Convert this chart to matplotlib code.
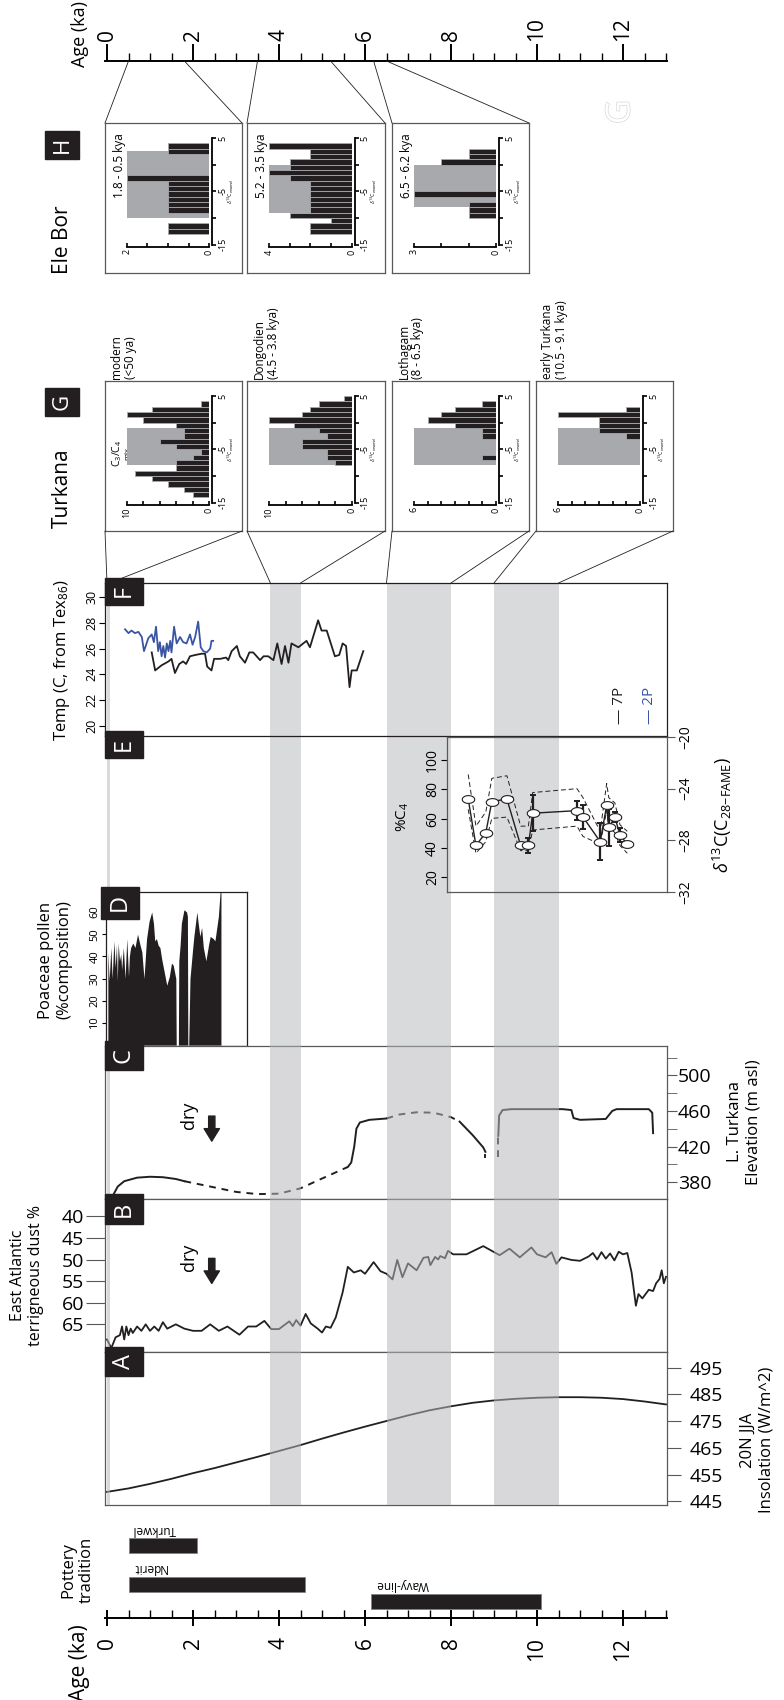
import numpy as np
import matplotlib.pyplot as plt
import matplotlib.patheffects as pe
from matplotlib.patches import Rectangle, ConnectionPatch

plt.rcParams['font.family'] = ['Open Sans', 'DejaVu Sans']
plt.rcParams['mathtext.fontset'] = 'custom'
plt.rcParams['mathtext.rm'] = 'Open Sans'
plt.rcParams['mathtext.it'] = 'Open Sans:italic'
plt.rcParams['axes.linewidth'] = 0.9

INK = '#231f20'
FRAME = '#58595b'
BAND = '#d9dadc'
MIX = '#a7a9ac'
BLUE = '#3b55a5'

# ---------------- data ----------------
bands = [(0.0, 0.06), (3.8, 4.5), (6.5, 8.0), (9.0, 10.5)]

# A: 20N JJA insolation
ins_age = [0, 0.5, 1, 1.5, 2, 2.5, 3, 3.5, 4, 4.5, 5, 5.5, 6, 6.5, 7, 7.5, 8, 8.5, 9, 9.5, 10, 10.5, 11, 11.5, 12, 12.5, 13]
ins_val = [448.5, 449.8, 451.5, 453.4, 455.5, 457.4, 459.5, 461.6, 463.8, 466, 468.4, 470.7, 472.9, 475, 477.1, 479, 480.5, 481.8,
           482.7, 483.3, 483.7, 483.9, 483.9, 483.7, 483.2, 482.3, 481.2]

# B: East Atlantic terrigenous dust %
dust_age = [0.0, 0.05, 0.1, 0.2, 0.3, 0.35, 0.4, 0.45, 0.5, 0.55, 0.6, 0.7, 0.8, 0.9, 1.0, 1.1, 1.2, 1.3, 1.4, 1.6, 1.8, 2.0,
            2.2, 2.4, 2.6, 2.8, 3.08, 3.28, 3.47, 3.66, 3.82, 4.0, 4.24, 4.32, 4.4, 4.5, 4.62, 4.74, 4.9, 5.0, 5.09, 5.2, 5.32,
            5.48, 5.6, 5.74, 5.9, 6.0, 6.2, 6.36, 6.5, 6.64, 6.75, 6.87, 7.0, 7.2, 7.36, 7.47, 7.52, 7.63, 7.7, 7.75, 7.86,
            7.93, 8.05, 8.36, 8.75, 9.13, 9.36, 9.6, 9.87, 10.0, 10.2, 10.34, 10.45, 10.57, 10.8, 11.0, 11.2, 11.3, 11.4,
            11.5, 11.6, 11.7, 11.8, 11.9, 12.0, 12.1, 12.2, 12.3, 12.36, 12.45, 12.6, 12.7, 12.77, 12.85, 12.9, 12.95, 13.0]
dust_val = [68.5, 69.5, 70.5, 68, 67.5, 65.5, 68.5, 65.5, 67.5, 66, 67, 65.5, 66.5, 65, 66.5, 65.5, 66.5, 64.5, 66, 65, 66, 66.5,
            66.5, 65, 66.5, 65.5, 67.4, 65.5, 65.5, 64.2, 66.1, 66.1, 64.3, 65.4, 64, 65.3, 62.6, 64.8, 66, 66.9, 65.5, 65.8, 63.4,
            57.6, 51.7, 53, 52.5, 53.3, 50.6, 52.7, 53.3, 54.6, 50.1, 54.1, 50.9, 52.5, 49.6, 49.4, 51.3, 49.4, 50, 49.2, 49.7,
            48, 48.8, 48.8, 46.9, 49, 47.5, 49.5, 47.2, 48.8, 49.5, 48.3, 51, 49.5, 50.1, 50.3, 49.3, 48.5, 50, 48.3, 49.8,
            48.6, 50.2, 48.2, 48.8, 48.5, 53, 60.7, 58, 59, 57, 57.3, 55.5, 54.5, 52.5, 55.5, 54]

# C: L. Turkana elevation (m asl); solid = dated, dashed = inferred
lake_segments = [
    ('-', [0.15, 0.25, 0.4, 0.7, 1.0, 1.3, 1.6, 1.8], [366, 375, 381, 385, 386, 385.5, 383.5, 381]),
    ('--', [1.8, 2.2, 2.6, 3.0, 3.5, 4.0, 4.5, 5.0, 5.6], [381, 377, 373, 369, 366.5, 367, 373, 384, 397]),
    ('-', [5.6, 5.68, 5.75, 5.8, 5.88, 6.1, 6.5], [397, 402, 420, 440, 447, 450, 451.5]),
    ('--', [6.5, 6.8, 7.2, 7.6, 8.0, 8.2], [451.5, 456, 458.5, 458, 453, 448]),
    ('-', [8.2, 8.5, 8.75, 8.8], [448, 433, 419, 414]),
    ('-', [8.8, 8.8], [411, 408]),
    ('--', [9.1, 9.1], [408, 432]),
    ('-', [9.1, 9.12, 9.2, 9.4, 10.6, 10.8, 10.85, 11.0, 11.6, 11.75, 11.85, 12.6, 12.68, 12.7],
     [432, 455, 461, 462, 462, 461, 452, 450, 451, 460, 462, 462, 458, 435]),
]

# D: Poaceae pollen (% composition)
pollen_age = [0.02, 0.05, 0.09, 0.12, 0.16, 0.19, 0.22, 0.24, 0.26, 0.29, 0.32, 0.34, 0.38, 0.42, 0.46, 0.5, 0.52, 0.55, 0.6,
              0.65, 0.71, 0.77, 0.81, 0.86, 0.92, 0.98, 1.04, 1.08, 1.11, 1.15, 1.19, 1.23, 1.27, 1.32, 1.39, 1.45, 1.5, 1.54,
              1.58, 1.6, 1.61, 1.66, 1.67, 1.7, 1.73, 1.79, 1.85, 1.87, 1.88, 1.9, 1.93, 1.99, 2.02, 2.09, 2.12, 2.16, 2.2,
              2.24, 2.3, 2.36, 2.4, 2.47, 2.51, 2.59, 2.63, 2.65]
pollen_val = [42, 29, 44, 30, 47, 35, 45, 29, 46, 38, 41, 34, 44, 30, 48, 31, 40, 44, 46, 44, 50, 45, 42, 30, 48, 56, 60, 55,
              47, 48, 45, 44, 39, 34, 27, 31, 37, 36, 32, 30, 0, 0, 38, 45, 55, 61, 60, 58, 0, 0, 30, 43, 49, 60, 55, 49, 53,
              44, 38, 45, 49, 48, 47, 58, 69, 69]

# E: leaf wax d13C (C28 FAME) with envelope and errors
wax_age = [8.40, 8.58, 8.81, 8.95, 9.30, 9.62, 9.80, 9.90, 10.93, 11.07, 11.47, 11.62, 11.67, 11.81, 11.93, 12.10]
wax_d13c = [-24.8, -28.4, -27.4, -25.0, -24.8, -28.4, -28.4, -25.9, -25.7, -26.2, -28.1, -25.3, -27.0, -26.2, -27.6, -28.3]
wax_err = [0, 0, 0, 0, 0, 0, 0.55, 1.4, 0.75, 0.9, 1.45, 0, 1.45, 0.4, 0.55, 0]
wax_hi = [-22.9, -26.9, -25.8, -23.2, -23.0, -26.9, -26.9, -24.3, -24.0, -24.7, -27.3, -23.6, -24.7, -25.1, -26.8, -27.3]
wax_lo = [-25.6, -29.0, -28.1, -26.3, -26.2, -28.8, -28.8, -27.2, -26.9, -27.7, -28.3, -25.7, -27.0, -27.4, -28.4, -29.0]

# F: TEX86 temperatures
t7p_age = [1.04, 1.12, 1.27, 1.43, 1.5, 1.58, 1.68, 1.77, 1.84, 1.93, 2.05, 2.2, 2.28, 2.33, 2.43, 2.49, 2.63, 2.77, 2.82, 2.9,
           3.02, 3.09, 3.21, 3.31, 3.4, 3.48, 3.56, 3.64, 3.75, 3.87, 3.96, 4.06, 4.14, 4.22, 4.29, 4.45, 4.64, 4.72, 4.91,
           4.99, 5.11, 5.3, 5.4, 5.48, 5.56, 5.64, 5.69, 5.81, 5.96]
t7p_val = [25.7, 24.3, 24.7, 25.0, 25.2, 24.1, 24.8, 25.0, 24.8, 25.4, 25.5, 25.6, 25.6, 24.6, 24.3, 25.2, 25.2, 25.3, 25.1,
           25.8, 26.2, 25.4, 24.9, 25.7, 25.7, 25.4, 25.1, 25.4, 25.4, 25.1, 26.4, 24.8, 26.2, 24.9, 26.4, 26.1, 26.6, 26.1,
           28.2, 27.4, 27.4, 25.4, 25.5, 26.4, 26.2, 23.0, 24.3, 24.3, 25.8]
t2p_age = [0.42, 0.5, 0.57, 0.65, 0.73, 0.81, 0.86, 0.96, 1.04, 1.09, 1.14, 1.19, 1.23, 1.27, 1.31, 1.35, 1.39, 1.43, 1.47,
           1.5, 1.56, 1.62, 1.7, 1.77, 1.85, 1.93, 1.99, 2.05, 2.12, 2.18, 2.24, 2.32, 2.4, 2.43, 2.47]
t2p_val = [27.5, 27.2, 27.4, 27.2, 27.3, 26.9, 25.8, 26.8, 27.1, 26.5, 27.7, 25.8, 26.5, 25.4, 26.2, 25.3, 26.4, 25.8, 26.6,
           25.7, 27.7, 26.4, 26.9, 26.5, 26.4, 27.1, 26.3, 26.9, 28.1, 26.1, 25.8, 25.7, 26.0, 26.6, 26.6]

# pottery traditions (ka)
pot_names = ['Turkwel', 'Nderit', 'Wavy-line']
pot_start = [0.5, 0.5, 6.15]
pot_end = [2.1, 4.6, 10.1]

# enamel d13C histograms: bin lower edges (1 permil bins) and counts
bin_edges = list(range(-15, 5))
ele_titles = ['1.8 - 0.5 kya', '5.2 - 3.5 kya', '6.5 - 6.2 kya']
ele_ages = [(0.5, 1.8), (3.5, 5.2), (6.2, 6.5)]
ele_max = [2, 4, 3]
ele_counts = [
    [0, 0, 1, 1, 0, 0, 1, 1, 1, 1, 1, 1, 2, 0, 0, 0, 0, 1, 1, 0],
    [0, 0, 2, 2, 1, 3, 2, 2, 2, 2, 2, 2, 3, 4, 3, 3, 2, 2, 4, 0],
    [0, 0, 0, 0, 0, 1, 1, 1, 0, 3, 0, 0, 0, 0, 0, 2, 1, 1, 0, 0],
]
ele_mix = [(-10, 2.5), (-9, 0), (-8, 0)]

tur_titles = ['modern\n(<50 ya)', 'Dongodien\n(4.5 - 3.8 kya)', 'Lothagam\n(8 - 6.5 kya)', 'early Turkana\n(10.5 - 9.1 kya)']
tur_ages = [(0.0, 0.06), (3.8, 4.5), (6.5, 8.0), (9.0, 10.5)]
tur_max = [10, 10, 6, 6]
tur_counts = [
    [0, 2, 3, 5, 7, 9, 4, 4, 2, 1, 4, 6, 3, 3, 4, 8, 10, 7, 1, 0],
    [0, 0, 0, 0, 0, 0, 0, 2, 3, 3, 6, 6, 3, 4, 7, 10, 6, 5, 4, 1],
    [0, 0, 0, 0, 0, 0, 0, 0, 1, 0, 0, 0, 1, 1, 3, 5, 4, 3, 1, 0],
    [0, 0, 0, 0, 0, 0, 0, 0, 0, 0, 0, 0, 1, 3, 3, 3, 6, 1, 0, 0],
]
tur_mix = [(-8, -1), (-8, -1), (-8, -1), (-8, -1)]

# ---------------- layout helpers (pixel boxes, origin top-left) ----------------
W, H = 784, 1700
X0, PXK = 107.0, 43.0
fig = plt.figure(figsize=(W / 100, H / 100), dpi=100)


def ax_px(l, t, r, b, **kw):
    return fig.add_axes([l / W, 1 - b / H, (r - l) / W, (b - t) / H], **kw)


def age_lim(l, r):
    return ((l - X0) / PXK, (r - X0) / PXK)


def ptext(x, y, s, **kw):
    return fig.text(x / W, 1 - y / H, s, **kw)


def letter(ax, s, x=0.012, y=0.985):
    ax.text(x, y, s, transform=ax.transAxes, rotation=90, ha='left', va='top', color='white', fontsize=17,
            zorder=20, bbox=dict(boxstyle='square,pad=0.3', fc=INK, ec=INK))


def frame(ax, color=FRAME):
    for s in ax.spines.values():
        s.set_color(color)
        s.set_linewidth(0.9)


def connect(xyA, axA, xyB, axB, tA=None, tB=None):
    con = ConnectionPatch(xyA=xyA, coordsA=tA or axA.transAxes, xyB=xyB, coordsB=tB or axB.transAxes,
                          color=INK, lw=0.6)
    fig.add_artist(con)


L, R = 105, 667
XL = age_lim(L, R)

# background bands behind F/E/D rows
bg = ax_px(L, 583, R, 1046, zorder=0)
bg.set_xlim(XL)
bg.set_ylim(0, 1)
for a0, a1 in bands:
    bg.axvspan(a0, a1, color=BAND, lw=0)
bg.axis('off')

# ---------------- top age axis ----------------
ax_top = ax_px(L, 42, R, 61)
ax_top.set_xlim(XL)
ax_top.set_ylim(0, 1)
for s in ['top', 'left', 'right']:
    ax_top.spines[s].set_visible(False)
ax_top.spines['bottom'].set_linewidth(1.4)
ax_top.set_xticks(range(0, 13, 2))
ax_top.set_xticks(np.arange(0.5, 13.01, 0.5), minor=True)
ax_top.tick_params(axis='x', which='major', direction='in', length=12, width=1.4, labelbottom=False, labeltop=True,
                   labelsize=15, labelrotation=90, pad=1)
ax_top.tick_params(axis='x', which='minor', direction='in', length=6, width=1)
ax_top.set_yticks([])
ax_top.patch.set_alpha(0)
ptext(80, 34, 'Age (ka)', rotation=90, ha='center', va='center', fontsize=13)

# faint stray letter outline near the top right
ptext(621, 112, 'G', rotation=90, ha='center', va='center', fontsize=24, color='white',
      path_effects=[pe.withStroke(linewidth=0.9, foreground='#d4d4d4')])

# ---------------- Ele Bor (H) and Turkana (G) histograms ----------------
box_x = [(105, 242), (247, 385), (392, 529), (536, 673)]
H_T, H_B = 123, 273
G_T, G_B = 381, 531


def hist_box(l, r, t, b, counts, cmax, mix):
    bx = ax_px(l, t, r, b)
    bx.set_xticks([])
    bx.set_yticks([])
    frame(bx)
    ia = bx.inset_axes([0.16, 0.19, 0.6, 0.71])
    ia.set_xlim(cmax, 0)
    ia.set_ylim(-15, 5)
    lo, hi = mix
    ia.add_patch(Rectangle((0, lo), cmax, hi - lo, color=MIX, lw=0, zorder=1))
    ia.barh([e + 0.5 for e in bin_edges], counts, height=1.0, color=INK, edgecolor=MIX, lw=0.6, zorder=2)
    for s in ['top', 'left']:
        ia.spines[s].set_visible(False)
    ia.spines['bottom'].set_linewidth(1.3)
    ia.spines['right'].set_linewidth(1.3)
    ia.spines['bottom'].set_position(('outward', 2))
    ia.spines['right'].set_position(('outward', 2))
    step = 2 if cmax == 10 else (0.5 if cmax == 2 else 1)
    ticks = np.arange(0, cmax + 0.01, step)
    ia.set_xticks(ticks)
    ia.set_xticklabels([str(cmax) if abs(v - cmax) < 1e-6 else ('0' if v == 0 else '') for v in ticks])
    ia.set_yticks([-15, -10, -5, 0, 5])
    ia.set_yticklabels(['-15', '', '-5', '', '5'])
    ia.yaxis.tick_right()
    ia.tick_params(axis='x', direction='in', length=3, width=1.2, labelsize=6.5, labelrotation=90, pad=1.5)
    ia.tick_params(axis='y', direction='out', length=3, width=1.2, labelsize=6.5, labelrotation=90, pad=1.5)
    for lab in ia.get_yticklabels():
        lab.set_va('center')
    ia.text(1.2, 0.5, r'$\delta^{13}$C$_{\mathrm{enamel}}$', transform=ia.transAxes, rotation=90,
            ha='left', va='center', fontsize=3.8)
    ia.patch.set_alpha(0)
    return bx, ia


ele_boxes = []
for i in range(3):
    bx, ia = hist_box(box_x[i][0], box_x[i][1], H_T, H_B, ele_counts[i], ele_max[i], ele_mix[i])
    bx.text(0.06, 0.93, ele_titles[i], transform=bx.transAxes, rotation=90, ha='left', va='top', fontsize=8.5)
    connect((ele_ages[i][0], 0), ax_top, (0, 1), bx, tA=ax_top.transData)
    connect((ele_ages[i][1], 0), ax_top, (1, 1), bx, tA=ax_top.transData)
    ele_boxes.append(bx)

tur_boxes = []
for i in range(4):
    bx, ia = hist_box(box_x[i][0], box_x[i][1], G_T, G_B, tur_counts[i], tur_max[i], tur_mix[i])
    bx.text(0.04, 1.015, tur_titles[i], transform=bx.transAxes, rotation=90, ha='left', va='bottom',
            fontsize=8.5, multialignment='left', linespacing=1.1)
    tur_boxes.append(bx)
tur_boxes[0].text(0.085, 0.52, r'C$_3$/C$_4$', transform=tur_boxes[0].transAxes, rotation=90, ha='center',
                  va='center', fontsize=7.5)
tur_boxes[0].text(0.165, 0.52, 'mix', transform=tur_boxes[0].transAxes, rotation=90, ha='center', va='center',
                  fontsize=5.5)

ptext(62, 240, 'Ele Bor', rotation=90, ha='center', va='center', fontsize=15)
ptext(62, 145, 'H', rotation=90, ha='center', va='center', fontsize=16, color='white',
      bbox=dict(boxstyle='square,pad=0.28', fc=INK, ec=INK))
ptext(62, 488, 'Turkana', rotation=90, ha='center', va='center', fontsize=15)
ptext(62, 402, 'G', rotation=90, ha='center', va='center', fontsize=16, color='white',
      bbox=dict(boxstyle='square,pad=0.28', fc=INK, ec=INK))

# ---------------- F: temperature ----------------
axF = ax_px(L, 583, R, 736)
axF.patch.set_alpha(0)
frame(axF, INK)
axF.set_xlim(XL)
axF.set_ylim(19.2, 31.1)
axF.plot(t7p_age, t7p_val, color=INK, lw=1.3)
axF.plot(t2p_age, t2p_val, color=BLUE, lw=1.3)
axF.set_xticks([])
axF.set_yticks(range(20, 31, 2))
axF.tick_params(axis='y', direction='out', length=4, labelsize=9, labelrotation=90, pad=1)
for lab in axF.get_yticklabels():
    lab.set_va('center')
letter(axF, 'F')
axF.text(0.915, 0.08, '\u2014 7P', transform=axF.transAxes, rotation=90, ha='center', va='bottom', fontsize=11, color=INK)
axF.text(0.968, 0.08, '\u2014 2P', transform=axF.transAxes, rotation=90, ha='center', va='bottom', fontsize=11, color=BLUE)
ptext(62, 660, r'Temp (C, from Tex$_{86}$)', rotation=90, ha='center', va='center', fontsize=12)

for i in range(4):
    connect((0, 0), tur_boxes[i], (tur_ages[i][0], 1), axF, tB=axF.get_xaxis_transform())
    connect((1, 0), tur_boxes[i], (tur_ages[i][1], 1), axF, tB=axF.get_xaxis_transform())

# ---------------- E: leaf wax d13C ----------------
axE_row = ax_px(L, 736, R, 892)
axE_row.axis('off')
axE_row.set_xlim(XL)
letter(axE_row, 'E')

axE = ax_px(447, 737, R, 892)
axE.patch.set_alpha(0)
frame(axE)
axE.set_xlim(age_lim(447, R))
axE.set_ylim(-32, -20)
ellipse = [(1.6 * np.cos(t), np.sin(t)) for t in np.linspace(0, 2 * np.pi, 30)]
axE.plot(wax_age, wax_hi, color=INK, lw=0.7, ls=(0, (5, 3)))
axE.plot(wax_age, wax_lo, color=INK, lw=0.7, ls=(0, (5, 3)))
axE.errorbar(wax_age, wax_d13c, yerr=wax_err, fmt='none', ecolor=INK, elinewidth=1.6, capsize=2.5, capthick=1.4)
axE.plot(wax_age, wax_d13c, color=INK, lw=1.0, marker=ellipse, ms=9, mfc='white', mec=INK, mew=0.8)
axE.yaxis.tick_right()
axE.set_yticks([-32, -28, -24, -20])
axE.set_xticks([])
axE.tick_params(axis='y', direction='out', length=6, color=FRAME, labelsize=10, labelrotation=90, pad=2)
for lab in axE.get_yticklabels():
    lab.set_va('center')
C3_END, C4_END = -33.1, -21.8
sec = axE.secondary_yaxis('left', functions=(lambda d: (d - C3_END) / (C4_END - C3_END) * 100,
                                             lambda p: C3_END + p / 100 * (C4_END - C3_END)))
sec.set_yticks([20, 40, 60, 80, 100])
sec.tick_params(direction='out', length=4, labelsize=10, labelrotation=90, pad=1)
for lab in sec.get_yticklabels():
    lab.set_va('center')
sec.spines['left'].set_visible(False)
ptext(403, 817, r'%C$_4$', rotation=90, ha='center', va='center', fontsize=11)
ptext(722, 815, r'$\delta^{13}$C(C$_{28\mathrm{-FAME}}$)', rotation=90, ha='center', va='center', fontsize=13)

# ---------------- D: Poaceae pollen ----------------
axD = ax_px(106, 892, 247, 1046)
frame(axD, INK)
axD.set_xlim(age_lim(106, 247))
axD.set_ylim(-0.4, 69)
axD.fill_between(pollen_age, pollen_val, color=INK, lw=0)
axD.set_xticks([])
axD.set_yticks(range(10, 61, 10))
axD.tick_params(axis='y', direction='out', length=3, labelsize=8, labelrotation=90, pad=1)
for lab in axD.get_yticklabels():
    lab.set_va('center')
letter(axD, 'D')
ptext(55, 960, 'Poaceae pollen\n(%composition)', rotation=90, ha='center', va='center', fontsize=12)


def overlay_bands(ax):
    for a0, a1 in bands:
        ax.axvspan(a0, a1, color='#b6b7ba', alpha=0.53, lw=0, zorder=5)


# ---------------- C: lake level ----------------
axC = ax_px(L, 1046, R, 1199)
frame(axC)
axC.set_xlim(XL)
axC.set_ylim(361, 533)
for style, xs, ys in lake_segments:
    axC.plot(xs, ys, color=INK, lw=1.4, ls='-' if style == '-' else (0, (3.5, 3)))
overlay_bands(axC)
axC.set_xticks([])
axC.yaxis.tick_right()
axC.set_yticks([380, 420, 460, 500])
axC.set_yticks([400, 440, 480, 520], minor=True)
axC.tick_params(axis='y', which='both', direction='out', length=7, color=FRAME, labelsize=14, pad=1)
letter(axC, 'C')
axC.text(0.15, 0.55, 'dry', transform=axC.transAxes, rotation=90, ha='center', va='center', fontsize=13)
axC.annotate('', xy=(0.19, 0.36), xytext=(0.19, 0.56), xycoords='axes fraction',
             arrowprops=dict(arrowstyle='simple,head_length=0.9,head_width=1.1,tail_width=0.45', color=INK))
ptext(744, 1122, 'L. Turkana\nElevation (m asl)', rotation=90, ha='center', va='center', fontsize=12)

# ---------------- B: dust ----------------
axB = ax_px(L, 1199, R, 1352)
frame(axB)
axB.set_xlim(XL)
axB.set_ylim(71.4, 36.0)
axB.plot(dust_age, dust_val, color=INK, lw=1.3)
overlay_bands(axB)
axB.set_xticks([])
axB.set_yticks([40, 45, 50, 55, 60, 65])
axB.tick_params(axis='y', direction='out', length=14, color=FRAME, labelsize=14, pad=1)
letter(axB, 'B')
axB.text(0.15, 0.62, 'dry', transform=axB.transAxes, rotation=90, ha='center', va='center', fontsize=13)
axB.annotate('', xy=(0.19, 0.43), xytext=(0.19, 0.63), xycoords='axes fraction',
             arrowprops=dict(arrowstyle='simple,head_length=0.9,head_width=1.1,tail_width=0.45', color=INK))
ptext(27, 1275, 'East Atlantic\nterrigneous dust %', rotation=90, ha='center', va='center', fontsize=11.5)

# ---------------- A: insolation ----------------
axA = ax_px(L, 1352, R, 1505)
frame(axA)
axA.set_xlim(XL)
axA.set_ylim(443.6, 500.8)
axA.plot(ins_age, ins_val, color=INK, lw=1.3)
overlay_bands(axA)
axA.set_xticks([])
axA.yaxis.tick_right()
axA.set_yticks(range(445, 496, 10))
axA.tick_params(axis='y', direction='out', length=10, color=FRAME, labelsize=14, pad=6)
letter(axA, 'A')
ptext(757, 1440, '20N JJA\nInsolation (W/m^2)', rotation=90, ha='center', va='center', fontsize=12)

# ---------------- pottery traditions ----------------
axP = ax_px(L, 1510, R, 1612)
axP.axis('off')
axP.set_xlim(XL)
axP.set_ylim(1612, 1510)
rows = [1545.5, 1584, 1601.5]
axP.barh(rows, np.array(pot_end) - np.array(pot_start), left=pot_start, height=15, color=INK, edgecolor='#808285', lw=0.6)
for name, x, y in zip(pot_names, pot_start, rows):
    axP.text(x + 0.1, y - 10, name, rotation=180, ha='left', va='bottom', fontsize=8.5)
ptext(78, 1570, 'Pottery\ntradition', rotation=90, ha='center', va='center', fontsize=12)

# ---------------- bottom age axis ----------------
ax_bot = ax_px(L, 1618, R, 1626)
ax_bot.set_xlim(XL)
for s in ['bottom', 'left', 'right']:
    ax_bot.spines[s].set_visible(False)
ax_bot.spines['top'].set_linewidth(1.4)
ax_bot.xaxis.set_ticks_position('top')
ax_bot.set_xticks(range(0, 13, 2))
ax_bot.set_xticks(np.arange(0.5, 13.01, 0.5), minor=True)
ax_bot.tick_params(axis='x', which='major', direction='inout', length=12, width=1.4, labeltop=False,
                   labelbottom=True, labelsize=15, labelrotation=90, pad=2)
ax_bot.tick_params(axis='x', which='minor', direction='out', length=6, width=1)
ax_bot.set_yticks([])
ax_bot.patch.set_alpha(0)
ptext(80, 1624, 'Age (ka)', rotation=90, ha='center', va='top', fontsize=15)

fig.savefig('out.png', dpi=100)
